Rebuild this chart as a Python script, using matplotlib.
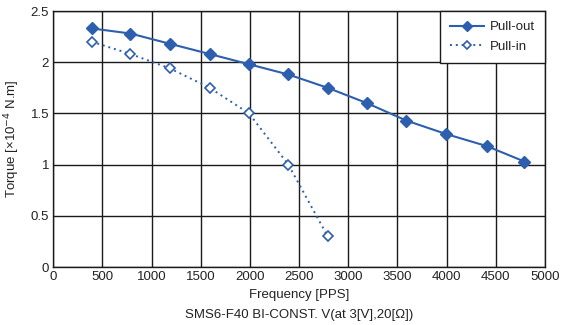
import matplotlib
matplotlib.use("Agg")
import matplotlib.pyplot as plt

plt.rcParams['font.family'] = ['Liberation Sans', 'DejaVu Sans']

# Pulse rate (PPS) and torque (x10^-4 N.m)
freq_out = [390, 785, 1185, 1590, 1990, 2390, 2790, 3190, 3590, 3990, 4410, 4790]
torque_out = [2.33, 2.28, 2.18, 2.08, 1.98, 1.88, 1.75, 1.60, 1.43, 1.30, 1.18, 1.03]
freq_in = [390, 785, 1185, 1590, 1990, 2390, 2790]
torque_in = [2.20, 2.08, 1.94, 1.75, 1.50, 1.00, 0.30]

x_ticks = [0, 500, 1000, 1500, 2000, 2500, 3000, 3500, 4000, 4500, 5000]
y_ticks = [0, 0.5, 1, 1.5, 2, 2.5]
y_ticklabels = ["0", "0.5", "1", "1.5", "2", "2.5"]

blue = "#2d5fae"
text_color = "#222222"

fig = plt.figure(figsize=(5.68, 3.25), dpi=100)
ax = fig.add_axes([53.3 / 568, 1 - 267 / 325, (545 - 53.3) / 568, (267 - 11) / 325])

ax.plot(freq_out, torque_out, color=blue, lw=1.5, marker="D", ms=6,
        mfc=blue, mec=blue, label="Pull-out", zorder=3)
ax.plot(freq_in, torque_in, color=blue, lw=1.4, ls=(0, (1, 2)), marker="D", ms=5,
        mfc="white", mec=blue, mew=1.2, label="Pull-in", zorder=3)

ax.set_xlim(0, 5000)
ax.set_ylim(0, 2.5)
ax.set_xticks(x_ticks)
ax.set_yticks(y_ticks)
ax.set_yticklabels(y_ticklabels)
ax.tick_params(length=0, labelsize=9.5, colors=text_color, pad=3)
ax.grid(True, color="#1a1a1a", lw=1.0)
ax.set_axisbelow(True)
for s in ax.spines.values():
    s.set_color("#1a1a1a")
    s.set_linewidth(1.0)

ax.set_xlabel("Frequency [PPS]", fontsize=9.5, color=text_color, labelpad=4)
ax.set_ylabel("Torque [\u00d710$^{-4}$ N.m]", fontsize=9.5, color=text_color, labelpad=6)
fig.text((53.3 + 545) / 2 / 568, 1 - 315 / 325, "SMS6-F40 BI-CONST. V(at 3[V],20[\u03a9])",
         ha="center", va="center", fontsize=9.5, color=text_color)

leg = ax.legend(loc="upper right", bbox_to_anchor=(1.0, 1.0), frameon=True, fancybox=False,
                fontsize=9.5, borderaxespad=0, handlelength=2.6, borderpad=0.75,
                labelspacing=0.55, handletextpad=0.45, markerscale=0.85)
leg.get_frame().set_edgecolor("#1a1a1a")
leg.get_frame().set_linewidth(1.0)
leg.get_frame().set_alpha(1)
for t in leg.get_texts():
    t.set_color(text_color)

fig.savefig("out.png", dpi=100)
